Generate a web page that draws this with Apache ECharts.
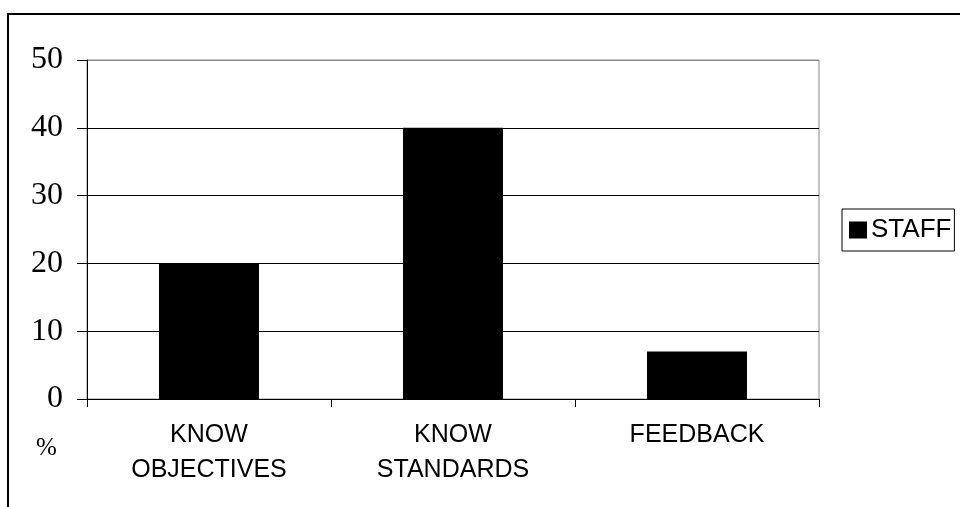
<!DOCTYPE html>
<html><head><meta charset="utf-8">
<script src="https://cdn.jsdelivr.net/npm/echarts@6/dist/echarts.min.js"></script>
<style>html,body{margin:0;padding:0;background:#fff}#c{width:960px;height:507px}</style>
</head><body><div id="c"></div>
<script>
const categories = ['KNOW\nOBJECTIVES', 'KNOW\nSTANDARDS', 'FEEDBACK'];
const staffValues = [20, 40, 7];
const seriesName = 'STAFF';
const yMin = 0, yMax = 50, yInterval = 10;
const yUnit = '%';

const chart = echarts.init(document.getElementById('c'), null, {renderer: 'canvas'});
chart.setOption({
  animation: false,
  backgroundColor: '#fff',
  graphic: [
    {type: 'rect', shape: {x: 8, y: 14, width: 1000, height: 600}, style: {fill: 'none', stroke: '#000', lineWidth: 2}, z: 100},
    {type: 'text', left: 36, top: 436, style: {text: yUnit, fontSize: 25, fontFamily: '"Liberation Serif", "Times New Roman", serif', fill: '#000'}}
  ],
  grid: {left: 87, top: 60, right: 141, bottom: 108, show: true, borderColor: '#888', borderWidth: 1, containLabel: false},
  legend: {
    data: [seriesName], left: 842, top: 209, orient: 'vertical',
    icon: 'rect', itemWidth: 18, itemHeight: 17, itemGap: 0,
    borderColor: '#000', borderWidth: 1, padding: [8, 3, 8, 7],
    textStyle: {fontFamily: '"Liberation Sans", Arial, sans-serif', fontSize: 26, color: '#000', padding: [0, 0, 0, -1]}
  },
  xAxis: {
    type: 'category', data: categories,
    axisLine: {lineStyle: {color: '#000', width: 1}},
    axisTick: {show: true, length: 8, lineStyle: {color: '#000'}, alignWithLabel: false},
    axisLabel: {color: '#000', fontFamily: '"Liberation Sans", Arial, sans-serif', fontSize: 25, lineHeight: 35, margin: 19, interval: 0},
    splitLine: {show: false}
  },
  yAxis: {
    type: 'value', min: yMin, max: yMax, interval: yInterval,
    axisLine: {show: true, lineStyle: {color: '#000', width: 1}},
    axisTick: {show: true, length: 10, lineStyle: {color: '#000'}},
    axisLabel: {color: '#000', fontFamily: '"Liberation Serif", "Times New Roman", serif', fontSize: 32, margin: 24},
    splitLine: {show: true, lineStyle: {color: ['#000', '#000', '#000', '#000', '#000', '#888'], width: 1}}
  },
  series: [{
    name: seriesName, type: 'bar', data: staffValues,
    barWidth: 100, itemStyle: {color: '#000'}
  }]
});
</script></body></html>
